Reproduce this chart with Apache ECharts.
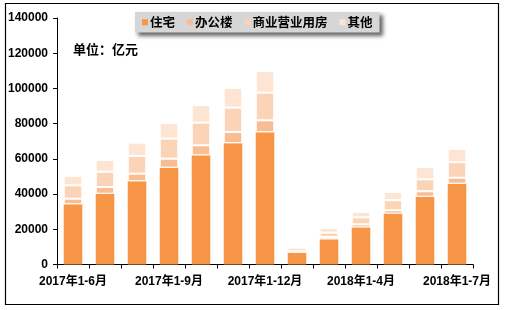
<!DOCTYPE html>
<html><head><meta charset="utf-8">
<script src="https://cdn.jsdelivr.net/npm/echarts@6/dist/echarts.min.js"></script>
<style>html,body{margin:0;padding:0;background:#fff}#c{width:506px;height:310px}</style>
</head><body><div id="c"></div>
<script>
var categories = ['2017年1-6月','2017年1-7月','2017年1-8月','2017年1-9月','2017年1-10月','2017年1-11月','2017年1-12月','2018年1-2月','2018年1-3月','2018年1-4月','2018年1-5月','2018年1-6月','2018年1-7月'];
var residential = [34200,40200,47300,55000,62000,68900,75100,6700,14300,21100,28900,38500,45900];
var office = [3200,3800,4300,5100,5700,6400,6800,1100,1300,1700,1900,3100,3400];
var commercial = [7600,8700,10100,11400,12900,13800,15700,1700,2500,4000,5700,6800,8800];
var other = [5300,6700,7500,8900,9900,11100,12300,600,2600,3000,4700,7000,7500];
var seriesNames = ['住宅','办公楼','商业营业用房','其他'];
var yTicks = [0,20000,40000,60000,80000,100000,120000,140000];

var colors = ['#F79646','#F9BD93','#FBD3B6','#FDE4D3'];
var chart = echarts.init(document.getElementById('c'));
var dataSets = [residential, office, commercial, other];
var series = dataSets.map(function(d,i){
  return {name: seriesNames[i], type:'bar', stack:'a', data:d, barWidth:'58%',
    itemStyle:{color:colors[i], borderColor:'#fff', borderWidth: i===0?0:1}};
});
var fontNum = '"Liberation Sans", Arial, "Noto Sans CJK SC", sans-serif';
chart.setOption({
  animation:false,
  grid:{left:57, right:33, top:18, bottom:45.5},
  legend:{
    left:135, top:12, orient:'horizontal',
    backgroundColor:'#D6D6D6', shadowColor:'rgba(0,0,0,0.6)', shadowBlur:4, shadowOffsetX:3, shadowOffsetY:3,
    padding:[4,7,4,7], itemWidth:6, itemHeight:6, itemGap:12, icon:'rect',
    itemStyle:{borderWidth:0},
    textStyle:{fontSize:12.5, fontWeight:'bold', color:'#000', fontFamily:'"Noto Sans CJK SC", sans-serif', padding:[0,0,0,-3]},
    data: seriesNames
  },
  xAxis:{type:'category', data:categories, boundaryGap:true,
    axisLine:{lineStyle:{color:'#000', width:1}},
    axisTick:{show:true, interval:0, length:4, lineStyle:{color:'#000'}},
    axisLabel:{interval:2, color:'#000', fontSize:12, fontWeight:'bold', margin:11, fontFamily:fontNum}
  },
  yAxis:{type:'value', min:0, max:140000, interval:20000,
    axisLine:{show:true, lineStyle:{color:'#000', width:1}},
    axisTick:{show:true, length:4, lineStyle:{color:'#000'}},
    splitLine:{show:false},
    axisLabel:{color:'#000', fontSize:12, fontWeight:'bold', margin:9, fontFamily:fontNum,
      formatter:function(v){ return yTicks.indexOf(v)>=0 ? String(v) : ''; }}
  },
  graphic:[
    {type:'rect', shape:{x:5.5, y:3.5, width:493, height:301}, style:{fill:'none', stroke:'#000', lineWidth:1.2}, silent:true, z:-1},
    {type:'text', left:73, top:43, style:{text:'单位：亿元', font:'bold 13px "Noto Sans CJK SC", sans-serif', fill:'#000'}}
  ],
  series:series
});
</script></body></html>
